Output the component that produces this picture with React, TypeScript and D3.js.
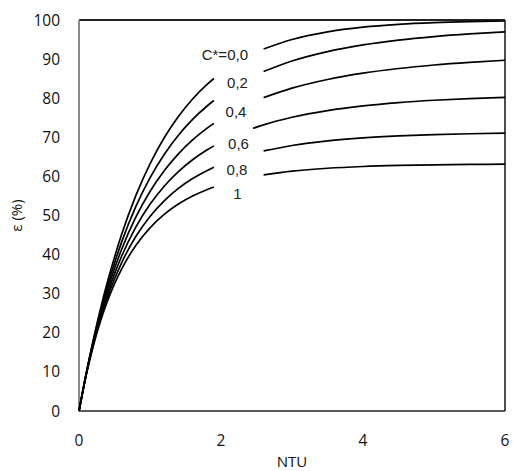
import React from "react";
import * as d3 from "d3";

const ntu = [0, 0.1, 0.2, 0.3, 0.4, 0.5, 0.6, 0.8, 1.0, 1.2, 1.4, 1.6, 1.8, 1.9, 2.45, 2.6, 3, 3.5, 4, 4.5, 5, 5.5, 6];

const eps_c00 = [0, 9.52, 18.13, 25.92, 32.97, 39.35, 45.12, 55.07, 63.21, 69.88, 75.34, 79.81, 83.47, 85.04, 91.37, 92.57, 95.02, 96.98, 98.17, 98.89, 99.33, 99.59, 99.75];
const eps_c02 = [0, 9.43, 17.8, 25.27, 31.91, 37.86, 43.19, 52.26, 59.6, 65.59, 70.51, 74.57, 77.94, 79.41, 85.58, 86.83, 89.52, 91.93, 93.63, 94.86, 95.76, 96.44, 96.96];
const eps_c04 = [0, 9.34, 17.49, 24.63, 30.9, 36.44, 41.34, 49.57, 56.14, 61.44, 65.77, 69.33, 72.28, 73.57, 79.02, 80.14, 82.57, 84.79, 86.4, 87.59, 88.49, 89.17, 89.7];
const eps_c06 = [0, 9.25, 17.18, 24.01, 29.93, 35.08, 39.58, 47.03, 52.86, 57.49, 61.21, 64.25, 66.73, 67.81, 72.29, 73.19, 75.12, 76.84, 78.03, 78.88, 79.48, 79.91, 80.23];
const eps_c08 = [0, 9.16, 16.88, 23.41, 28.99, 33.77, 37.91, 44.62, 49.76, 53.76, 56.92, 59.44, 61.47, 62.34, 65.83, 66.51, 67.91, 69.09, 69.85, 70.35, 70.69, 70.91, 71.05];
const eps_c10 = [0, 9.08, 16.58, 22.83, 28.08, 32.53, 36.31, 42.35, 46.85, 50.28, 52.92, 54.98, 56.6, 57.28, 59.9, 60.37, 61.33, 62.08, 62.53, 62.8, 62.97, 63.06, 63.12];

const seriesLabels = ["C*=0,0", "0,2", "0,4", "0,6", "0,8", "1"];
const seriesValues = [eps_c00, eps_c02, eps_c04, eps_c06, eps_c08, eps_c10];
// NTU at which the second piece of each curve resumes (after the label gap)
const resumeAt = [2.6, 2.6, 2.6, 2.45, 2.6, 2.6];
const gapStart = 1.9;

const xTicks = [0, 2, 4, 6];
const yTicks = [0, 10, 20, 30, 40, 50, 60, 70, 80, 90, 100];

export default function App() {
  const W = 513;
  const H = 471;
  const m = { left: 79, right: 505, top: 20, bottom: 411 };
  const x = d3.scaleLinear().domain([0, 6]).range([m.left, m.right]);
  const y = d3.scaleLinear().domain([0, 100]).range([m.bottom, m.top]);
  const line = d3
    .line<[number, number]>()
    .x((d) => x(d[0]))
    .y((d) => y(d[1]))
    .curve(d3.curveMonotoneX);

  const labelPos = [
    { x: 248, y: 60, anchor: "end" },
    { x: 237.5, y: 88, anchor: "middle" },
    { x: 236, y: 116.5, anchor: "middle" },
    { x: 238.5, y: 149, anchor: "middle" },
    { x: 237, y: 175, anchor: "middle" },
    { x: 237.5, y: 199, anchor: "middle" },
  ];

  const tickFont = "'Open Sans', 'Liberation Sans', sans-serif";

  return (
    <svg
      width={W}
      height={H}
      style={{ position: "absolute", left: 0, top: 0, background: "#fff" }}
    >
      {/* frame */}
      <line x1={m.left} x2={m.right} y1={m.top} y2={m.top} stroke="#222" strokeWidth={2} />
      <line x1={m.right} x2={m.right} y1={m.top} y2={m.bottom} stroke="#222" strokeWidth={1.6} />
      <line x1={m.left} x2={m.right} y1={m.bottom} y2={m.bottom} stroke="#222" strokeWidth={1.6} />
      <line x1={m.left} x2={m.left} y1={m.top} y2={m.bottom} stroke="#8a8a8a" strokeWidth={2} />

      {/* curves */}
      {seriesValues.map((vals, i) => {
        const pts: [number, number][] = ntu.map((n, j) => [n, vals[j]]);
        const seg1 = pts.filter((p) => p[0] <= gapStart);
        const seg2 = pts.filter((p) => p[0] >= resumeAt[i]);
        return (
          <g key={i} fill="none" stroke="#000" strokeWidth={1.7}>
            <path d={line(seg1) || ""} />
            <path d={line(seg2) || ""} />
          </g>
        );
      })}

      {/* curve labels */}
      {seriesLabels.map((lab, i) => (
        <text
          key={lab}
          x={labelPos[i].x}
          y={labelPos[i].y}
          textAnchor={labelPos[i].anchor as any}
          fontFamily="'Liberation Sans', Arial, sans-serif"
          fontSize={15}
          fill="#222"
        >
          {lab}
        </text>
      ))}

      {/* y ticks */}
      {yTicks.map((t) => (
        <text
          key={t}
          x={60}
          y={y(t)}
          dy="0.36em"
          textAnchor="end"
          fontFamily={tickFont}
          fontSize={15.5}
          fill="#111"
        >
          {t}
        </text>
      ))}

      {/* x ticks */}
      {xTicks.map((t) => (
        <text
          key={t}
          x={x(t)}
          y={440}
          dy="0.36em"
          textAnchor="middle"
          fontFamily={tickFont}
          fontSize={15.5}
          fill="#111"
        >
          {t}
        </text>
      ))}

      {/* axis titles */}
      <text
        x={(m.left + m.right) / 2}
        y={462}
        dy="0.36em"
        textAnchor="middle"
        fontFamily={tickFont}
        fontSize={15}
        fill="#111"
      >
        NTU
      </text>
      <text
        transform={`translate(17, ${(m.top + m.bottom) / 2}) rotate(-90)`}
        dy="0.36em"
        textAnchor="middle"
        fontFamily={tickFont}
        fontSize={15}
        fill="#111"
      >
        ε (%)
      </text>
    </svg>
  );
}
